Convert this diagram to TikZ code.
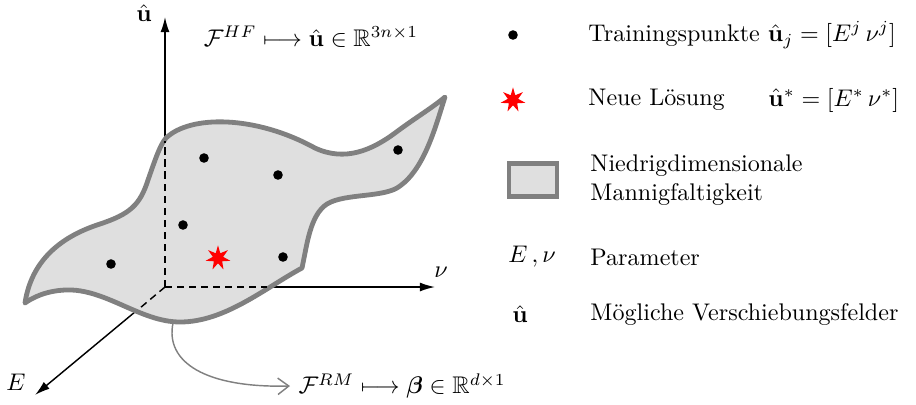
\documentclass[tikz,border=0pt]{standalone}
\usepackage{amsmath,amssymb,amsfonts}
\usepackage{bm}
\usetikzlibrary{shapes.geometric,arrows.meta,positioning}
\definecolor{mfgray}{RGB}{223,223,223}
\definecolor{mfedge}{RGB}{128,128,128}
\newcommand{\uh}{\hat{\mathbf{u}}}

\begin{document}
\begin{tikzpicture}[x=0.0146cm, y=-0.0146cm,
    axis/.style={line width=0.6pt, -{Latex[length=2.2mm, width=1.3mm]}},
    hidden/.style={line width=0.6pt, dashed, dash pattern=on 3pt off 2pt},
    manifold/.style={draw=mfedge, fill=mfgray, line width=2pt, line join=round},
    trainpt/.style={circle, fill=black, inner sep=0pt, minimum size=1.4mm},
    newsol/.style={star, star points=7, star point ratio=2.4, fill=red,
        inner sep=0pt, minimum size=3.7mm},
    maparr/.style={mfedge, line width=0.6pt, -{Straight Barb[length=1.6mm, width=2.4mm]}},
    legtext/.style={anchor=west, inner sep=0pt, align=left}
]
    \useasboundingbox (0,0) rectangle (916,404);

    % axes
    \coordinate (o) at (165,287);
    \coordinate (uend) at (165,17);
    \coordinate (nuend) at (435,287);
    \coordinate (eend) at (35,395);
    \draw[axis] (o) -- (uend);
    \draw[axis] (o) -- (nuend);
    \draw[axis] (o) -- (eend);
    \node (ulab) at (144,13) {$\uh$};
    \node (nulab) at (441,272) {$\nu$};
    \node (elab) at (16,382) {$E$};

    % manifold
    \draw[manifold] (166,138)
        .. controls (190,115) and (255,115) .. (315,148)
        .. controls (345,162) and (372,150) .. (395,133)
        .. controls (415,118) and (432,108) .. (445,97)
        .. controls (436,125) and (425,168) .. (400,186)
        .. controls (385,198) and (345,193) .. (327,204)
        .. controls (310,215) and (307,245) .. (302,268)
        .. controls (265,288) and (225,322) .. (180,322)
        .. controls (140,322) and (105,288) .. (65,290)
        .. controls (45,291) and (32,298) .. (25,303)
        .. controls (30,270) and (50,240) .. (100,224)
        .. controls (130,214) and (140,205) .. (148,180)
        .. controls (155,160) and (160,145) .. cycle;

    % hidden parts of the axes
    \coordinate (uin) at (165,141);
    \coordinate (nuin) at (267,287);
    \coordinate (ein) at (140,308);
    \draw[hidden] (o) -- (uin);
    \draw[hidden] (o) -- (nuin);
    \draw[hidden] (o) -- (ein);

    % training points and new solution
    \node[trainpt] (p1) at (204,158) {};
    \node[trainpt] (p2) at (278,175) {};
    \node[trainpt] (p3) at (398,150) {};
    \node[trainpt] (p4) at (183,225) {};
    \node[trainpt] (p5) at (283,257) {};
    \node[trainpt] (p6) at (111,264) {};
    \node[newsol] (snew) at (218,258) {};

    % maps
    \node (hflab) at (311,37) {$\mathcal{F}^{HF} \longmapsto \uh \in \mathbb{R}^{3n\times 1}$};
    \node[anchor=west] (rmlab) at (290,386) {$\mathcal{F}^{RM} \longmapsto \bm{\beta} \in \mathbb{R}^{d\times 1}$};
    \coordinate (mfbot) at (173,323);
    \draw[maparr] (mfbot) .. controls (165,362) and (205,388) .. (rmlab.west);

    % legend
    \node[trainpt] (lgdot) at (513,35) {};
    \node[legtext] (lgt1) at (588,35) {Trainingspunkte $\uh_j = [E^j\,\nu^j]$};
    \node[newsol] (lgstar) at (513,100) {};
    \node[legtext] (lgt2) at (588,100) {Neue Lösung};
    \node[legtext] (lgt2m) at (768,100) {$\uh^* = [E^*\,\nu^*]$};
    \node[draw=mfedge, fill=mfgray, line width=2pt, minimum width=7mm,
        minimum height=4.8mm, inner sep=0pt] (lgbox) at (533,180) {};
    \node[legtext] (lgt3) at (590,180) {Niedrigdimensionale\\Mannigfaltigkeit};
    \node[legtext] (lgpar) at (508,257) {$E\,,\nu$};
    \node[legtext] (lgt4) at (590,257) {Parameter};
    \node[legtext] (lgu) at (512,314) {$\uh$};
    \node[legtext] (lgt5) at (590,314) {Mögliche Verschiebungsfelder};
\end{tikzpicture}
\end{document}
